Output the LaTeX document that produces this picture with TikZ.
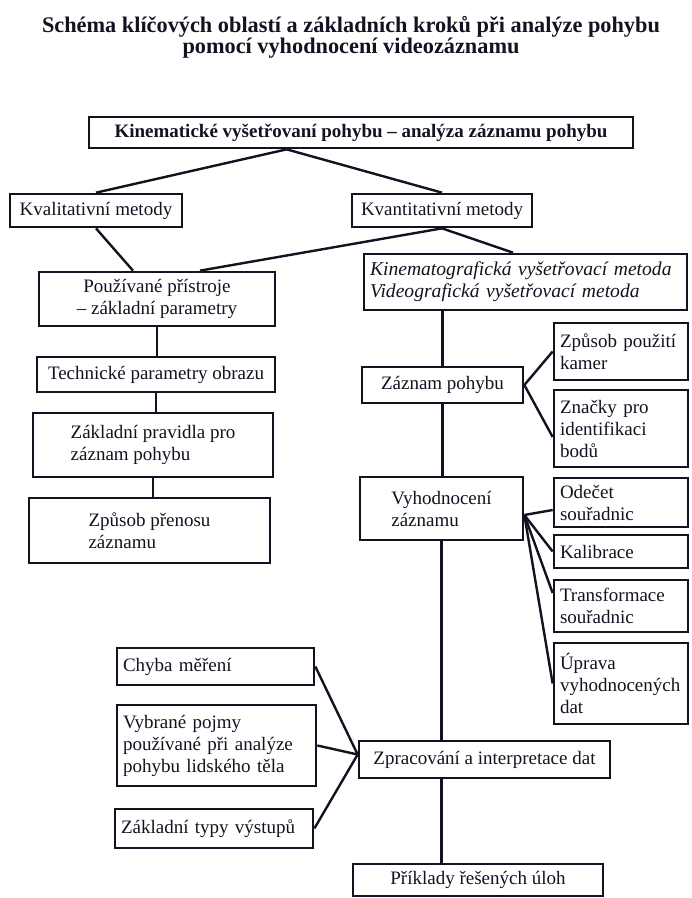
\documentclass[tikz,border=0pt]{standalone}
\usepackage{fontspec}
\setmainfont{Liberation Serif}
\usepackage{tikz}
\usetikzlibrary{positioning, calc}
\definecolor{cInk}{RGB}{18,18,32}
\newcommand{\boxfont}{\fontsize{19}{22}\selectfont}
\tikzset{
	box/.style  ={rectangle, draw=cInk, line width=2.7pt, inner sep=6pt, align=center, text=cInk, font=\boxfont},
	leaf/.style ={box, align=left, text width=#1},
	leaf/.default=122pt,
	link/.style ={draw=cInk, line width=2.4pt},
}

\begin{document}
\begin{tikzpicture}[x=1pt, y=-1pt]
	\useasboundingbox (0,0) rectangle (692,898);
	\node[align=center, text=cInk, font=\bfseries\fontsize{22.3}{19.5}\selectfont] (title) at (351,37) {Schéma klíčových oblastí a základních kroků při analýze pohybu\\pomocí vyhodnocení videozáznamu};
	% top of the tree
	\node[box, font=\boxfont\bfseries, minimum width=544, minimum height=31] (kin) at (361,132.5) {Kinematické vyšetřovaní pohybu -- analýza záznamu pohybu};
	\node[box, minimum width=172, minimum height=33] (kval) at (96,210.5) {Kvalitativní metody};
	\node[box, minimum width=180, minimum height=33] (kvant) at (442,210.5) {Kvantitativní metody};
	% left column
	\node[box, minimum width=236, minimum height=54] (pouz) at (157,299) {Používané přístroje\\-- základní parametry};
	\node[box, minimum width=238, minimum height=35] (tech) at (156,374.5) {Technické parametry obrazu};
	\node[box, align=left, minimum width=240, minimum height=64] (prav) at (153,445) {Základní pravidla pro\\záznam pohybu};
	\node[box, align=left, minimum width=241, minimum height=65] (pren) at (149.5,530.5) {Způsob přenosu\\záznamu};
	% right spine
	\node[leaf=311pt, font=\fontsize{19.6}{22}\selectfont\itshape, minimum height=56] (kine) at (525.5,282) {Kinematografická vyšetřovací metoda\\Videografická vyšetřovací metoda};
	\node[box, minimum width=161, minimum height=36] (zaz) at (442.5,385) {Záznam pohybu};
	\node[box, align=left, minimum width=163, minimum height=63] (vyh) at (441.5,508.5) {Vyhodnocení\\záznamu};
	\node[box, minimum width=251, minimum height=37] (zpr) at (484.5,759.5) {Zpracování a interpretace dat};
	\node[box, minimum width=250, minimum height=32] (pri) at (478,880) {Příklady řešených úloh};
	% right leaves
	\node[leaf, minimum height=57] (kam) at (621,351.5) {Způsob použití\\kamer};
	\node[leaf, minimum height=77] (zn) at (621,428.5) {Značky pro\\identifikaci\\bodů};
	\node[leaf, minimum height=49] (ode) at (621,502.5) {Odečet\\souřadnic};
	\node[leaf, minimum height=33] (kal) at (621,551.5) {Kalibrace};
	\node[leaf, minimum height=52] (tra) at (621,606) {Transformace\\souřadnic};
	\node[leaf, minimum height=81] (upr) at (621,683.5) {Úprava\\vyhodnocených\\dat};
	% left leaves
	\node[leaf=185pt, minimum height=37] (chy) at (215.5,666.5) {Chyba měření};
	\node[leaf=187pt, minimum height=81] (vyb) at (216.5,745.5) {Vybrané pojmy\\používané při analýze\\pohybu lidského těla};
	\node[leaf=186pt, minimum height=39] (typ) at (214,828.5) {Základní typy výstupů};
	% connectors
	\coordinate (fork) at ($(kin.south west)+(199,0)$);
	\coordinate (vyhR) at ($(vyh.east)+(0,6.5)$);
	\coordinate (zprL) at ($(zpr.west)+(0,-5)$);
	\draw[link] (fork) -- (kval.north);
	\draw[link] (fork) -- (kvant.north);
	\draw[link] (kval.south) -- ($(pouz.north)+(-24,0)$);
	\draw[link] (kvant.south) -- ($(pouz.north)+(43,0)$);
	\draw[link] (kvant.south) -- ($(kine.north)+(-12.5,0)$);
	\draw[link] (pouz.south) -- (pouz.south |- tech.north);
	\draw[link] (tech.south) -- (tech.south |- prav.north);
	\draw[link] (prav.south) -- (prav.south |- pren.north);
	\draw[link] (zaz.north |- kine.south) -- (zaz.north);
	\draw[link] (zaz.south) -- (zaz.south |- vyh.north);
	\draw[link] (vyh.south) -- (vyh.south |- zpr.north);
	\draw[link] (vyh.south |- zpr.south) -- (vyh.south |- pri.north);
	\draw[link] (zaz.east) -- (kam.west);
	\draw[link] (zaz.east) -- ($(zn.west)+(0,8.5)$);
	\draw[link] (vyhR) -- ($(ode.west)+(0,7.5)$);
	\draw[link] (vyhR) -- (kal.west);
	\draw[link] (vyhR) -- ($(tra.west)+(0,-13)$);
	\draw[link] (vyhR) -- (upr.west);
	\draw[link] (chy.east) -- (zprL);
	\draw[link] (vyb.east) -- (zprL);
	\draw[link] (typ.east) -- (zprL);
\end{tikzpicture}
\end{document}
